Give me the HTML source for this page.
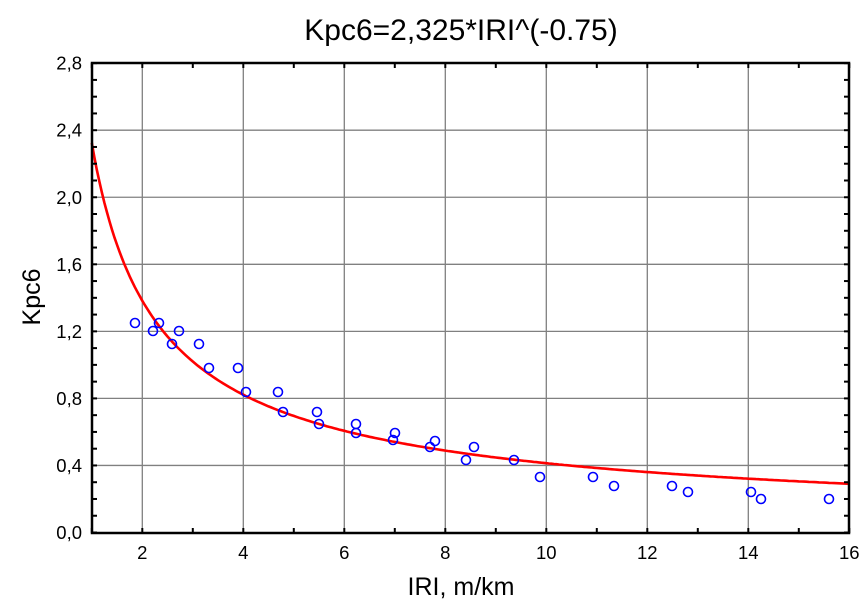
<!DOCTYPE html>
<html><head><meta charset="utf-8"><style>
body{margin:0;background:#fff;}
svg{display:block;font-family:"Liberation Sans",Arial,sans-serif;}
</style></head><body>
<svg id="s" width="866" height="607" viewBox="0 0 866 607" xmlns="http://www.w3.org/2000/svg">
<rect width="866" height="607" fill="#fff"/>
<text x="461" y="40" font-size="30" text-anchor="middle">Kpc6=2,325*IRI^(-0.75)</text>
<text x="461" y="595" font-size="25" text-anchor="middle">IRI, m/km</text>
<text transform="translate(40,297) rotate(-90)" font-size="25" text-anchor="middle">Kpc6</text>
<g id="grid" stroke="#808080" stroke-width="1.3"></g>
<path id="curve" fill="none" stroke="#f00" stroke-width="2.6"/>
<g id="pts" fill="none" stroke="#00f" stroke-width="1.6"></g>
<rect x="92" y="63" width="757" height="470" fill="none" stroke="#000" stroke-width="2.5"/>
<g id="ticks" stroke="#000" stroke-width="2"></g>
<g id="lab" font-size="18.5"></g>
</svg>
<script>
var X=function(v){return 91.8+(v-1)*50.5;},Y=function(v){return 532.5-v/0.4*67.05;};
var ns="http://www.w3.org/2000/svg";
function el(p,t,a,txt){var e=document.createElementNS(ns,t);for(var k in a)e.setAttribute(k,a[k]);if(txt)e.textContent=txt;document.getElementById(p).appendChild(e);}
for(var v=2;v<=14;v+=2)el("grid","line",{x1:X(v),x2:X(v),y1:63,y2:533});
for(var i=1;i<7;i++)el("grid","line",{x1:92,x2:849,y1:Y(i*0.4),y2:Y(i*0.4)});
for(var v=1;v<=16;v++){el("ticks","line",{x1:X(v),x2:X(v),y1:63,y2:68});el("ticks","line",{x1:X(v),x2:X(v),y1:533,y2:528});}
for(var i=0;i<=28;i++){var y=Y(i*0.1);el("ticks","line",{x1:92,x2:97,y1:y,y2:y});el("ticks","line",{x1:849,x2:844,y1:y,y2:y});}
for(var v=2;v<=16;v+=2)el("lab","text",{x:X(v),y:559,"text-anchor":"middle"},""+v);
for(var i=0;i<=7;i++)el("lab","text",{x:82,y:Y(i*0.4)+6.5,"text-anchor":"end"},(i*0.4).toFixed(1).replace(".",","));
var d="";for(var x=1;x<=16.001;x+=0.05){d+=(d?"L":"M")+X(x).toFixed(1)+","+Y(2.325*Math.pow(x,-0.75)).toFixed(1);}
document.getElementById("curve").setAttribute("d",d);
var P=[[135,323],[153,331],[159,323],[172,344],[179,331],[199,344],[209,368],[238,368],[246,392],[278,392],[283,412],[317,412],[319,424],[356,424],[356,433],[393,440],[395,433],[430,447],[435,441],[466,460],[474,447],[514,460],[540,477],[593,477],[614,486],[672,486],[688,492],[751,492],[761,499],[829,499]];
P.forEach(function(p){el("pts","circle",{cx:p[0],cy:p[1],r:4.5});});
</script>
</body></html>
